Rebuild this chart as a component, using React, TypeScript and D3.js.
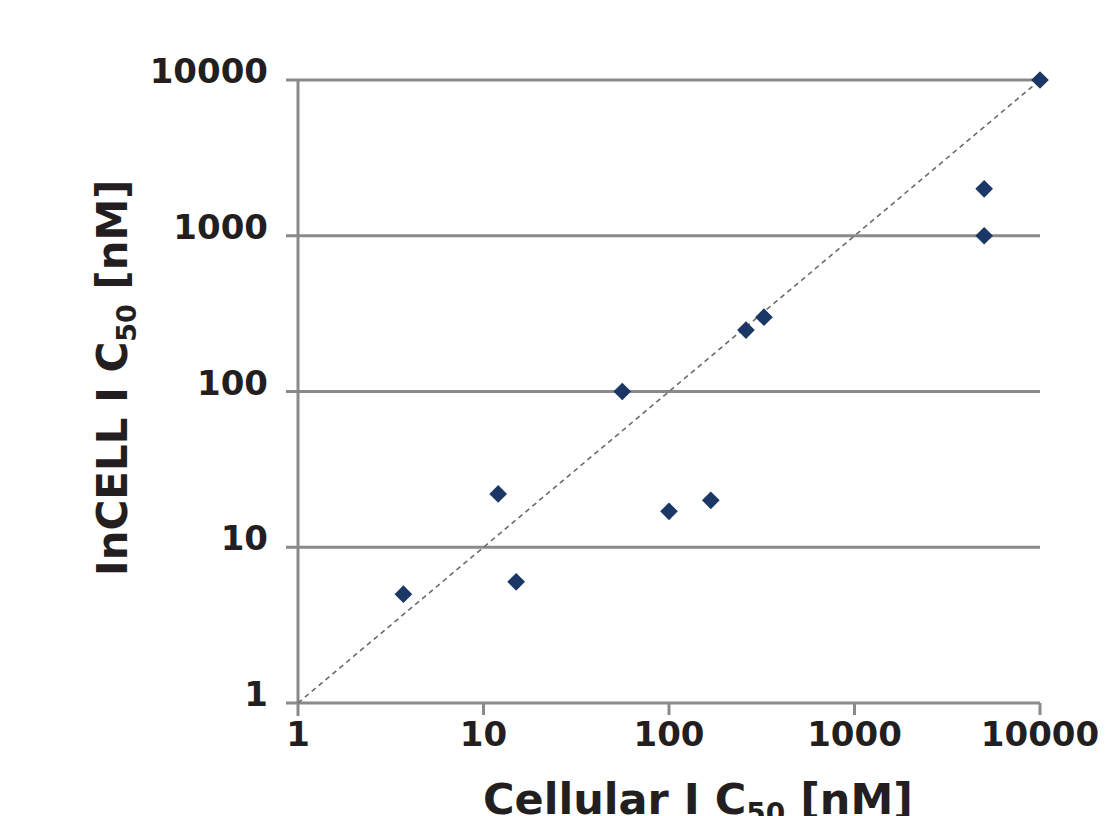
import React from "react";
import * as d3 from "d3";

const cellularIC50 = [3.7, 12, 15, 56, 100, 168, 260, 325, 5000, 5000, 10000];
const incellIC50 = [5, 22, 6, 100, 17, 20, 248, 300, 2000, 1000, 10000];
const tickValues = [1, 10, 100, 1000, 10000];
const tickLabels = ["1", "10", "100", "1000", "10000"];

const W = 1107;
const H = 816;
const FONT = "'DejaVu Sans', Verdana, sans-serif";

export default function App() {
  const x = d3.scaleLog().domain([1, 10000]).range([298, 1040]);
  const y = d3.scaleLog().domain([1, 10000]).range([703, 80]);
  const pts = cellularIC50.map((c, i) => ({ c, v: incellIC50[i] }));
  const diamond = d3.symbol().type(d3.symbolDiamond2).size(200)();
  const axisColor = "#8a8a8a";

  return (
    <svg
      width={W}
      height={H}
      style={{ position: "absolute", left: 0, top: 0, background: "#fff" }}
      fontFamily={FONT}
    >
      {/* horizontal gridlines */}
      {tickValues.map((t) => (
        <line
          key={"g" + t}
          x1={286}
          x2={x(10000)}
          y1={y(t)}
          y2={y(t)}
          stroke={axisColor}
          strokeWidth={3}
        />
      ))}
      {/* y axis line */}
      <line x1={x(1)} x2={x(1)} y1={y(10000)} y2={y(1) + 13} stroke={axisColor} strokeWidth={3} />
      {/* x ticks */}
      {tickValues.slice(1).map((t) => (
        <line
          key={"xt" + t}
          x1={x(t)}
          x2={x(t)}
          y1={y(1)}
          y2={y(1) + 12}
          stroke={axisColor}
          strokeWidth={3}
        />
      ))}
      {/* y tick labels */}
      {tickValues.map((t, i) => (
        <text
          key={"yl" + t}
          x={268}
          y={y(t) + 3}
          textAnchor="end"
          fontSize={34}
          fontWeight="bold"
          fill="#231f20"
        >
          {tickLabels[i]}
        </text>
      ))}
      {/* x tick labels */}
      {tickValues.map((t, i) => (
        <text
          key={"xl" + t}
          x={x(t)}
          y={746}
          textAnchor="middle"
          fontSize={34}
          fontWeight="bold"
          fill="#231f20"
        >
          {tickLabels[i]}
        </text>
      ))}
      {/* diagonal line */}
      <line
        x1={x(1)}
        y1={y(1)}
        x2={x(10000)}
        y2={y(10000)}
        stroke="#6b6b6b"
        strokeWidth={1.6}
        strokeDasharray="5,4"
      />
      {/* points */}
      {pts.map((p, i) => (
        <path
          key={"p" + i}
          d={diamond}
          transform={`translate(${x(p.c)},${y(p.v)})`}
          fill="#1b3766"
        />
      ))}
      {/* x axis title */}
      <text
        x={483}
        y={814}
        fontSize={43}
        fontWeight="bold"
        fill="#231f20"
      >
        <tspan>Cellular I C</tspan>
        <tspan fontSize={28} dy={9}>50</tspan>
        <tspan dy={-9}> [nM]</tspan>
      </text>
      {/* y axis title */}
      <text
        transform="translate(127,576) rotate(-90)"
        fontSize={42}
        fontWeight="bold"
        fill="#231f20"
      >
        <tspan>InCELL I C</tspan>
        <tspan fontSize={27} dy={9}>50</tspan>
        <tspan dy={-9}> [nM]</tspan>
      </text>
    </svg>
  );
}
